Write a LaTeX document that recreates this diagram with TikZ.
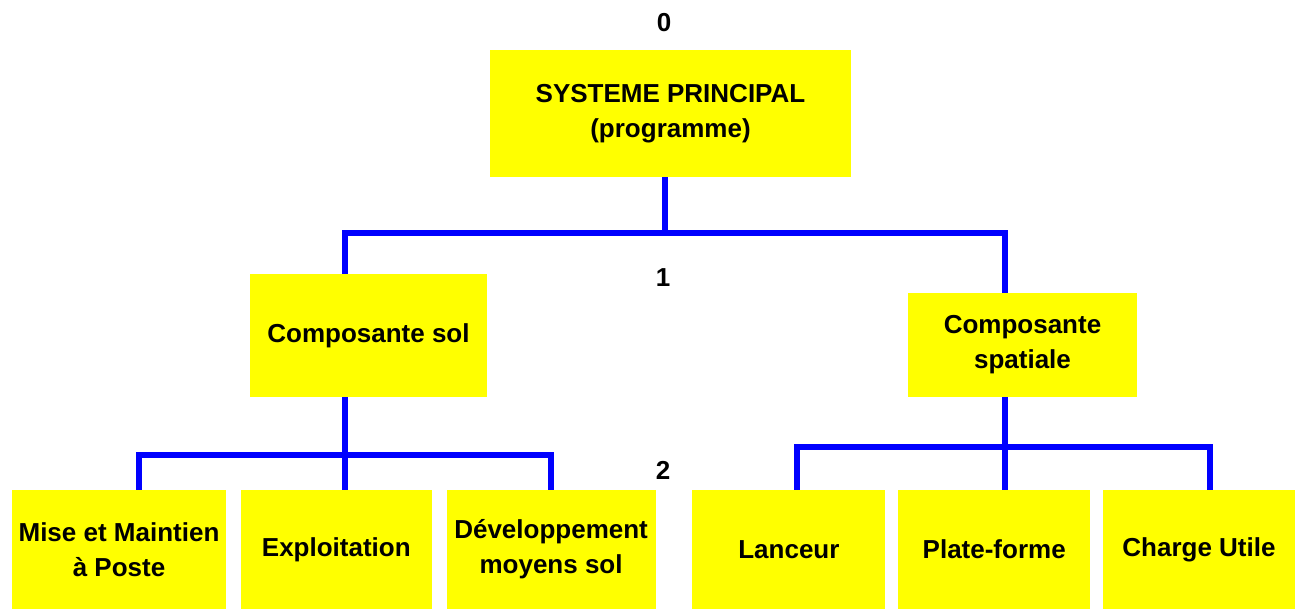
\documentclass[tikz,border=0pt]{standalone}
\usepackage{fontspec}
\setmainfont{Liberation Sans}
\usetikzlibrary{positioning}
\definecolor{boxyellow}{RGB}{255,255,0}
\definecolor{busblue}{RGB}{0,0,255}
\tikzset{box/.style = {fill=boxyellow, inner sep=2pt, align=center,
                       font=\fontsize{13}{17.5}\selectfont\bfseries},
         level/.style = {font=\fontsize{13}{15}\selectfont\bfseries},
         bus/.style = {draw=busblue, line width=3pt, line join=miter}}

\begin{document}
\begin{tikzpicture}[x=0.5pt, y=-0.5pt]
      \useasboundingbox (0,0) rectangle (1300,609);
      \node [level] (lev0) at (664,23) {0};
      \node [level] (lev1) at (663,278) {1};
      \node [level] (lev2) at (663,470) {2};
      \node [box, minimum width=180.5pt, minimum height=63.5pt] (top) at (670.5,113.5) {SYSTEME PRINCIPAL\\(programme)};
      \node [box, minimum width=118.5pt, minimum height=61.5pt] (sol) at (368.5,335.5) {Composante sol};
      \node [box, minimum width=114.5pt, minimum height=52pt] (spa) at (1022.5,345) {Composante\\spatiale};
      \node [box, minimum width=107pt, minimum height=59.5pt] (mise) at (119,549.5) {Mise et Maintien\\à Poste};
      \node [box, minimum width=95.5pt, minimum height=59.5pt, right=7pt of mise] (expl) {Exploitation};
      \node [box, minimum width=104.5pt, minimum height=59.5pt, right=7pt of expl] (dev) {Développement\\moyens sol};
      \node [box, minimum width=96.5pt, minimum height=59.5pt, right=18pt of dev] (lanc) {Lanceur};
      \node [box, minimum width=96pt, minimum height=59.5pt, right=6pt of lanc] (plat) {Plate-forme};
      \node [box, minimum width=96pt, minimum height=59.5pt, right=6pt of plat] (charge) {Charge Utile};
      \coordinate (b1) at (665,233);
      \coordinate (b2) at (345,455);
      \coordinate (b3) at (1005,447);
      \coordinate (sol-in) at (sol.north -| b2);
      \coordinate (spa-in) at (spa.north -| b3);
      \draw [bus] (top.south -| b1) -- (b1);
      \draw [bus] (sol-in) |- (b1) -| (spa-in);
      \draw [bus] (sol.south -| b2) -- (expl.north -| b2);
      \draw [bus] (mise.north -| 139,0) |- (b2) -| (dev.north -| 551,0);
      \draw [bus] (spa.south -| b3) -- (plat.north -| b3);
      \draw [bus] (lanc.north -| 797,0) |- (b3) -| (charge.north -| 1210,0);
    \end{tikzpicture}
\end{document}
